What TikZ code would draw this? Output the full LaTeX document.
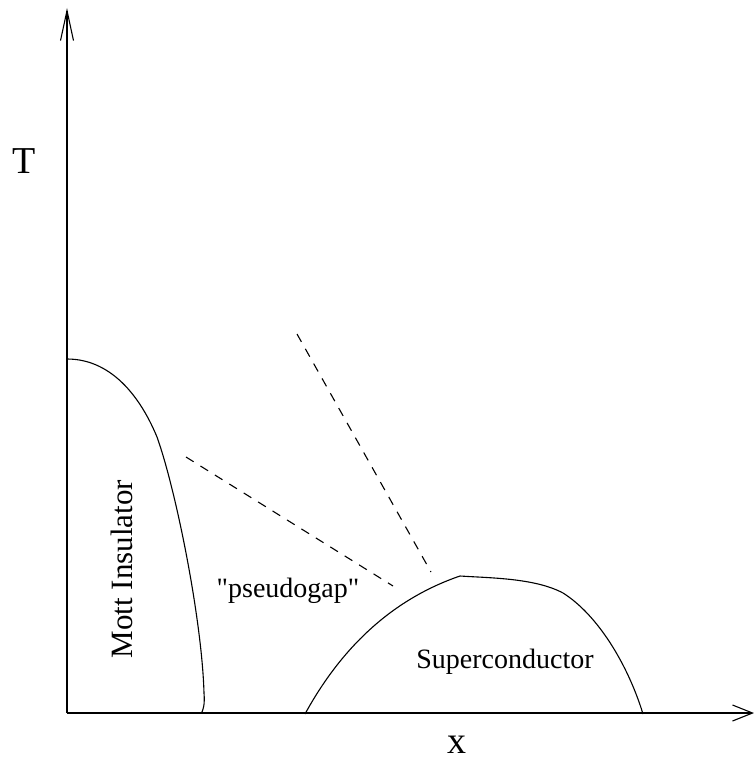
\documentclass[tikz,border=0pt]{standalone}
\usepackage{fontspec}
\setmainfont{Liberation Serif}
\usetikzlibrary{arrows.meta,positioning}

\begin{document}
\begin{tikzpicture}[x=1pt,y=-1pt,line width=1.1pt,
  ax/.style={line width=1.1pt},
  phase/.style={line width=1.1pt},
  pg/.style={line width=1.1pt,dash pattern=on 9pt off 8pt},
  big/.style={inner sep=0pt,font=\fontsize{38}{43}\selectfont},
  lbl/.style={inner sep=0pt,font=\fontsize{28}{33}\selectfont}]
  \useasboundingbox (0,0) rectangle (754,760);
  % axes
  \coordinate (o) at (67,713);
  \coordinate (ttop) at (67,8);
  \coordinate (xend) at (754,713);
  \draw[ax,-{Straight Barb[length=30pt,width=13pt]}] (o) -- (ttop);
  \draw[ax,-{Straight Barb[length=20pt,width=16pt]}] (o) -- (xend);
  \node[big] (tlab) at (24,161) {T};
  \node[big] (xlab) at (457,745) {x};
  % phase boundaries
  \draw[phase] (67,359) .. controls (115,359) and (143,403) .. (157,437)
    .. controls (176,490) and (202,620) .. (204,693)
    .. controls (205,705) and (203,710) .. (201.5,713);
  \draw[phase] (305,714) .. controls (340,650) and (390,600) .. (460,576)
    .. controls (490,578) and (535,578) .. (563,593)
    .. controls (598,615) and (628,665) .. (643,714);
  % crossover lines
  \coordinate (pga) at (186,457);
  \coordinate (pgb) at (393,586);
  \coordinate (pgc) at (297,334);
  \coordinate (pgd) at (431,572);
  \draw[pg] (pga) -- (pgb);
  \draw[pg] (pgc) -- (pgd);
  % regions
  \node[rotate=90,inner sep=0pt,font=\fontsize{31}{36}\selectfont] (mott) at (121.5,569) {Mott Insulator};
  \node[lbl,anchor=base] (pseudo) at (288,597) {\textquotedbl pseudogap\textquotedbl};
  \node[lbl,anchor=base] (sc) at (505,668) {Superconductor};
\end{tikzpicture}
\end{document}
